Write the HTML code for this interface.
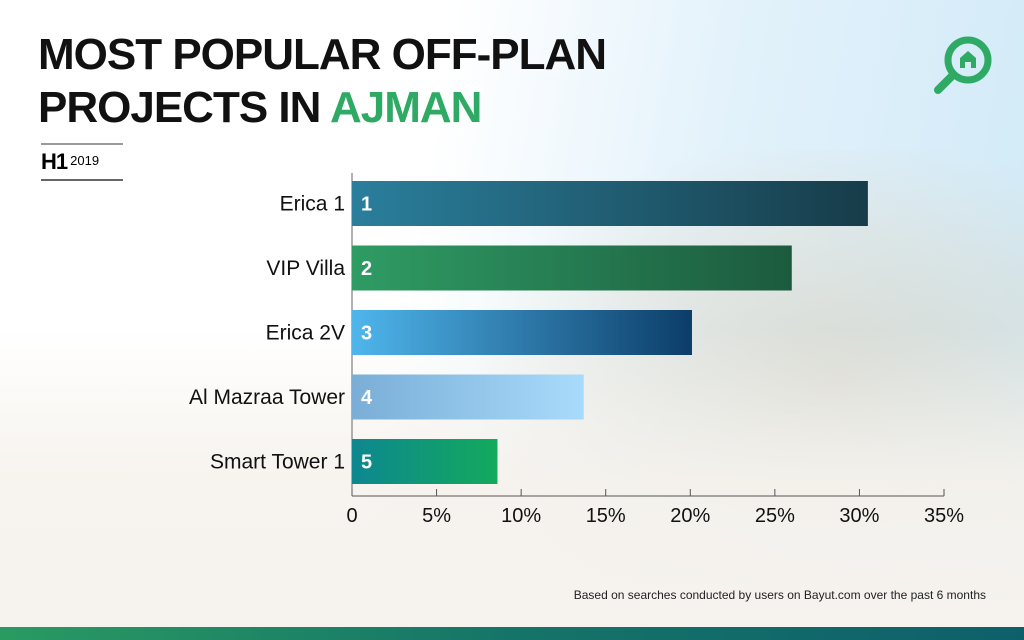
<!DOCTYPE html>
<html><head><meta charset="utf-8"><style>
body{margin:0;width:1024px;height:640px;overflow:hidden;font-family:"Liberation Sans",sans-serif}
#bg{position:absolute;left:0;top:0;width:1024px;height:640px;background:linear-gradient(100deg,#ffffff 0%,#ffffff 40%,#e3f2fb 65%,#cfe9f7 100%)}
#bg2{position:absolute;left:0;top:330px;width:1024px;height:300px;background:linear-gradient(180deg,rgba(246,242,236,0) 0%,rgba(246,242,236,.9) 50%,#f6f3ee 100%)}
#city{position:absolute;left:480px;top:150px;width:544px;height:380px;background:radial-gradient(ellipse at 65% 60%,rgba(215,195,165,.45) 0%,rgba(225,205,175,.25) 45%,rgba(230,215,190,0) 75%)}
.t{position:absolute;left:38px;font-weight:bold;font-size:44px;letter-spacing:-1px;color:#111;line-height:1}
</style></head><body>
<div id="bg"></div>
<div id="city"></div>
<div id="bg2"></div>
<div class="t" style="top:33px">MOST POPULAR OFF-PLAN</div>
<div class="t" style="top:86px">PROJECTS IN <span style="color:#2eaa64">AJMAN</span></div>
<div style="position:absolute;left:41px;top:143px;width:82px;border-top:2px solid #999;border-bottom:2px solid #666;height:34px"><span style="font-weight:bold;font-size:22px;position:relative;top:4px;letter-spacing:-1px">H1</span><span style="font-size:13px;margin-left:3px">2019</span></div>
<svg style="position:absolute;left:930px;top:30px" width="70" height="70">
<circle cx="38" cy="30" r="20" fill="none" stroke="#2eaa64" stroke-width="7"/>
<line x1="23" y1="45" x2="8" y2="60" stroke="#2eaa64" stroke-width="8" stroke-linecap="round"/>
<path d="M30 38 V28 L38 21 L46 28 V38 H41 V32 H35 V38Z" fill="#2eaa64"/></svg>
<svg id="chart" style="position:absolute;left:0;top:0" width="1024" height="640">
<defs>
<linearGradient id="g0"><stop offset="0" stop-color="#2a7f9c"/><stop offset="1" stop-color="#173c49"/></linearGradient>
<linearGradient id="g1"><stop offset="0" stop-color="#2f9c64"/><stop offset="1" stop-color="#1c5a3e"/></linearGradient>
<linearGradient id="g2"><stop offset="0" stop-color="#4fb6ec"/><stop offset="1" stop-color="#0c3d68"/></linearGradient>
<linearGradient id="g3"><stop offset="0" stop-color="#7aaed6"/><stop offset="1" stop-color="#a8dbfb"/></linearGradient>
<linearGradient id="g4"><stop offset="0" stop-color="#0d8790"/><stop offset="1" stop-color="#13aa5c"/></linearGradient>
</defs>
</svg>
<div style="position:absolute;right:38px;top:588px;font-size:12px;color:#222">Based on searches conducted by users on Bayut.com over the past 6 months</div>
<div style="position:absolute;left:0;top:627px;width:1024px;height:13px;background:linear-gradient(90deg,#2a9a62,#157468 50%,#0e5f6a)"></div>
<script>
const categories=["Erica 1","VIP Villa","Erica 2V","Al Mazraa Tower","Smart Tower 1"];
const values=[30.5,26.0,20.1,13.7,8.6];
const ranks=["1","2","3","4","5"];
const ticks=[0,5,10,15,20,25,30,35];
const tickLabels=["0","5%","10%","15%","20%","25%","30%","35%"];
const svg=document.getElementById('chart');const NS="http://www.w3.org/2000/svg";
const x0=352,pxPer=(944-352)/35,top0=181,pitch=64.5,bh=45,axisY=496;
const xs=v=>x0+v*pxPer;
function mk(t,a){const e=document.createElementNS(NS,t);for(const k in a)e.setAttribute(k,a[k]);svg.appendChild(e);return e;}
const ax=mk('line',{x1:x0,y1:axisY,x2:xs(35),y2:axisY,stroke:'#555','stroke-width':1});


const yl=mk('line',{x1:x0,y1:173,x2:x0,y2:axisY,stroke:'#666','stroke-width':1});


ticks.forEach((t,i)=>{
const tk=mk('line',{x1:xs(t),y1:axisY-7,x2:xs(t),y2:axisY,stroke:'#555'});


const tl=mk('text',{x:xs(t),y:axisY+26,'text-anchor':'middle','font-size':20,fill:'#111'});
tl.textContent=tickLabels[i];


});
categories.forEach((c,i)=>{
const y=top0+i*pitch;
const r=mk('rect',{x:x0,y:y,width:xs(values[i])-x0,height:bh,fill:'url(#g'+i+')'});


const n=mk('text',{x:x0+9,y:y+bh/2+7,'font-size':20,'font-weight':'bold',fill:'#fff'});
n.textContent=ranks[i];


const l=mk('text',{x:x0-7,y:y+bh/2+7,'text-anchor':'end','font-size':21,fill:'#111'});
l.textContent=c;


});
</script>
</body></html>
